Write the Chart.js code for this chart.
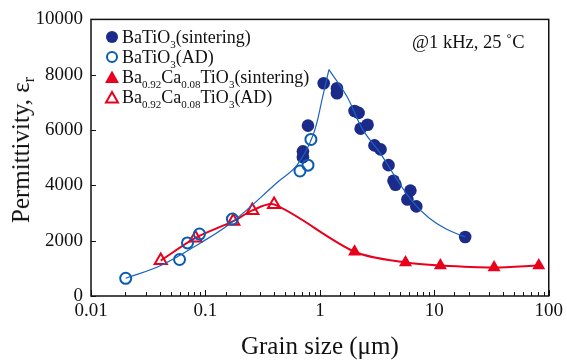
<!DOCTYPE html>
<html><head><meta charset="utf-8">
<script src="https://cdn.jsdelivr.net/npm/chart.js@4"></script>
<style>
html,body{margin:0;padding:0;background:#fff;}
#wrap{position:relative;width:567px;height:363px;font-family:"Liberation Serif","Times New Roman",serif;color:#111;}
#c{position:absolute;left:0;top:0;}
.leg{position:absolute;left:104px;top:27px;font-size:18px;line-height:20px;}
.leg div{height:20px;white-space:nowrap;}
.leg svg{width:16px;height:16px;margin-right:2px;vertical-align:-2px;}
.leg sub{font-size:11px;vertical-align:-5px;line-height:0;}
.note{position:absolute;left:412px;top:32px;font-size:18.5px;white-space:nowrap;}
.ytitle{position:absolute;left:21px;top:150px;transform:translate(-50%,-50%) rotate(-90deg);font-size:25px;white-space:nowrap;}
.ytitle sub{font-size:16px;vertical-align:-5px;line-height:0;}
</style></head>
<body>
<div id="wrap">
<canvas id="c" width="567" height="363"></canvas>
<div class="leg">
 <div><svg viewBox="0 0 16 16"><circle cx="8" cy="8" r="6" fill="#1c2a8a"/></svg>BaTiO<sub>3</sub>(sintering)</div>
 <div><svg viewBox="0 0 16 16"><circle cx="8" cy="8" r="5" fill="#fff" stroke="#0b5bb0" stroke-width="2"/></svg>BaTiO<sub>3</sub>(AD)</div>
 <div><svg viewBox="0 0 16 16"><polygon points="8,1.5 15,14 1,14" fill="#e8001c"/></svg>Ba<sub>0.92</sub>Ca<sub>0.08</sub>TiO<sub>3</sub>(sintering)</div>
 <div><svg viewBox="0 0 16 16"><polygon points="8,3 14,13.5 2,13.5" fill="#fff" stroke="#e8001c" stroke-width="2"/></svg>Ba<sub>0.92</sub>Ca<sub>0.08</sub>TiO<sub>3</sub>(AD)</div>
</div>
<div class="note">@1 kHz, 25 ˚C</div>
<div class="ytitle">Permittivity, ε<sub>r</sub></div>
</div>
<script>
// ---- data ----
const btoSinterX = [1.08, 1.41, 1.41, 2.01, 2.18, 2.27, 2.61, 3.0, 3.39, 3.98, 4.40, 4.58, 6.18, 5.82, 6.96, 18.6, 0.787, 0.711, 0.711];
const btoSinterY = [7690, 7510, 7330, 6690, 6620, 6050, 6190, 5445, 5300, 4730, 4165, 4020, 3810, 3490, 3240, 2135, 6160, 5230, 5020];
const btoADX = [0.835, 0.787, 0.67, 0.0201, 0.0594, 0.0697, 0.0887, 0.172];
const btoADY = [5660, 4730, 4520, 640, 1320, 1920, 2240, 2780];
const bctSinterX = [2.01, 5.6, 11.3, 33.3, 81.8];
const bctSinterY = [1600, 1210, 1100, 1030, 1100];
const bctADX = [0.0407, 0.0818, 0.175, 0.257, 0.398];
const bctADY = [1280, 2100, 2705, 3095, 3310];
// fitted guide line for BaTiO3 (rising and falling branches)
const btoFitUpX = [0.0201, 0.0407, 0.0906, 0.175, 0.431, 0.631, 0.869, 1.06, 1.2];
const btoFitUpY = [640, 1100, 1920, 2705, 4130, 4730, 5800, 7220, 8185];
const btoFitDownX = [1.2, 1.72, 2.37, 3.33, 4.68, 6.44, 9.06, 12.7, 18.6];
const btoFitDownY = [8185, 7220, 6015, 5195, 4235, 3415, 2810, 2420, 2135];
const xTickLabels = [0.01, 0.1, 1, 10, 100];
const yTicks = [0, 2000, 4000, 6000, 8000, 10000];

const pts = (xs, ys) => xs.map((x, i) => ({x, y: ys[i]}));
const bctLineX = bctADX.concat(bctSinterX);
const bctLineY = bctADY.concat(bctSinterY);

const NAVY = '#1c2a8a', BLUE = '#0b5bb0', LINEBLUE = '#1a64c0', RED = '#e8001c';

const frame = {
  id: 'frame',
  afterDraw(chart) {
    const {ctx, chartArea: a, scales} = chart;
    ctx.save();
    ctx.strokeStyle = '#111';
    ctx.lineWidth = 1.5;
    ctx.strokeRect(a.left, a.top, a.right - a.left, a.bottom - a.top);
    ctx.lineWidth = 1;
    ctx.beginPath();
    scales.x.ticks.forEach(t => {
      const px = Math.round(scales.x.getPixelForValue(t.value)) + 0.5;
      const major = xTickLabels.includes(+t.value.toPrecision(6));
      ctx.moveTo(px, a.bottom);
      ctx.lineTo(px, a.bottom - (major ? 6 : 4));
    });
    scales.y.ticks.forEach(t => {
      const py = Math.round(scales.y.getPixelForValue(t.value)) + 0.5;
      ctx.moveTo(a.left, py);
      ctx.lineTo(a.left + 5, py);
    });
    ctx.stroke();
    ctx.restore();
  }
};

new Chart(document.getElementById('c'), {
  type: 'scatter',
  data: {
    datasets: [
      {data: pts(btoFitUpX, btoFitUpY), showLine: true, borderColor: LINEBLUE, borderWidth: 1.2, pointRadius: 0, tension: 0.4, fill: false},
      {data: pts(btoFitDownX, btoFitDownY), showLine: true, borderColor: LINEBLUE, borderWidth: 1.2, pointRadius: 0, tension: 0.4, fill: false},
      {data: pts(btoADX, btoADY), pointStyle: 'circle', pointRadius: 5.5, pointBorderWidth: 2, borderColor: BLUE, backgroundColor: 'rgba(255,255,255,0)'},
      {data: pts(btoSinterX, btoSinterY), pointStyle: 'circle', pointRadius: 6.3, pointBorderWidth: 0, borderColor: NAVY, backgroundColor: NAVY},
      {data: pts(bctLineX, bctLineY), showLine: true, borderColor: RED, borderWidth: 2, pointRadius: 0, tension: 0.3, fill: false},
      {data: pts(bctADX, bctADY), pointStyle: 'triangle', pointRadius: 7, pointBorderWidth: 2, borderColor: RED, backgroundColor: '#fff'},
      {data: pts(bctSinterX, bctSinterY), pointStyle: 'triangle', pointRadius: 7.5, pointBorderWidth: 0, borderColor: RED, backgroundColor: RED}
    ]
  },
  options: {
    responsive: false,
    animation: false,
    events: [],
    layout: {padding: {left: 0, right: 16, top: 15, bottom: 0}},
    plugins: {legend: {display: false}, tooltip: {enabled: false}},
    scales: {
      x: {
        type: 'logarithmic', min: 0.01, max: 100,
        grid: {display: false, drawTicks: false},
        border: {display: false},
        afterFit(s) { s.height = 67; },
        ticks: {
          autoSkip: false, maxRotation: 0, padding: 4, color: '#111',
          font: {family: 'Liberation Serif', size: 19},
          callback(v) { const r = +Number(v).toPrecision(6); return xTickLabels.includes(r) ? String(r) : ''; }
        },
        title: {display: true, text: 'Grain size (μm)', color: '#111', font: {family: 'Liberation Serif', size: 25}, padding: {top: 0, bottom: 1}}
      },
      y: {
        min: 0, max: 10000,
        afterFit(s) { s.width = 91; },
        afterBuildTicks(s) { s.ticks = yTicks.map(v => ({value: v})); },
        grid: {display: false, drawTicks: false},
        border: {display: false},
        ticks: {padding: 8, color: '#111', font: {family: 'Liberation Serif', size: 19}, callback(v) { return String(v); }}
      }
    }
  },
  plugins: [frame]
});
</script>
</body></html>
